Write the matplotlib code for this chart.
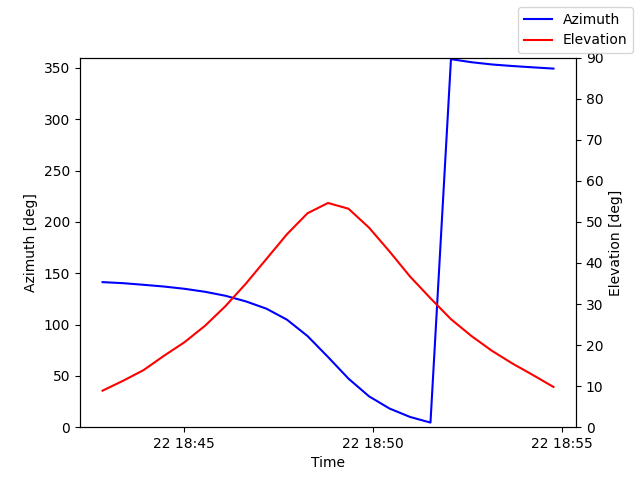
import matplotlib
matplotlib.use("Agg")
import matplotlib.pyplot as plt
import matplotlib.dates as mdates
import pandas as pd

times = pd.date_range("2024-01-22 18:42:51", periods=23, freq="32500ms")

azimuth = [141.3, 140.3, 138.7, 137.0, 134.8, 131.9, 128.0, 122.5, 115.4, 104.7,
           88.8, 68.4, 47.3, 30.1, 18.2, 10.0, 4.5, 358.5, 355.5, 353.3, 351.8, 350.5, 349.3]
elevation = [8.9, 11.3, 13.9, 17.4, 20.7, 24.7, 29.5, 35.0, 41.0, 47.0, 52.1, 54.6,
             53.2, 48.6, 42.8, 36.7, 31.4, 26.3, 22.2, 18.6, 15.5, 12.7, 9.8]

fig, ax1 = plt.subplots()
ax1.plot(times, azimuth, color="blue", label="Azimuth")
ax1.set_ylim(0, 360)
ax1.set_ylabel("Azimuth [deg]")
ax1.set_xlabel("Time")
ax1.xaxis.set_major_locator(mdates.MinuteLocator(byminute=range(0, 60, 5)))
ax1.xaxis.set_major_formatter(mdates.DateFormatter("%d %H:%M"))

ax2 = ax1.twinx()
ax2.plot(times, elevation, color="red", label="Elevation")
ax2.set_ylim(0, 90)
ax2.set_ylabel("Elevation [deg]")

fig.legend()
fig.savefig("out.png", dpi=100)
